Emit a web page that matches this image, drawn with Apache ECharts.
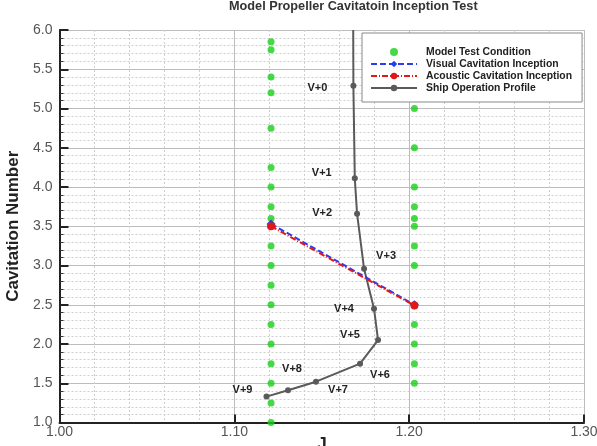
<!DOCTYPE html>
<html><head><meta charset="utf-8">
<script src="https://cdn.jsdelivr.net/npm/echarts@6/dist/echarts.min.js"></script>
<style>html,body{margin:0;padding:0;background:#fff}#c{width:597px;height:446px}</style>
</head><body><div id="c"></div><script>
// ---- data ----
const chartTitle = 'Model Propeller Cavitatoin Inception Test';
const xName = 'J';
const yName = 'Cavitation Number';
const seriesNames = ['Model Test Condition', 'Visual Cavitation Inception', 'Acoustic Cavitation Inception', 'Ship Operation Profile'];
const testLeftX = 1.121;
const testRightX = 1.203;
const testLeftY = [5.85, 5.75, 5.4, 5.2, 4.75, 4.25, 4.0, 3.75, 3.6, 3.5, 3.25, 3.0, 2.75, 2.5, 2.25, 2.0, 1.75, 1.5, 1.25, 1.0];
const testRightY = [5.0, 4.5, 4.0, 3.75, 3.6, 3.5, 3.25, 3.0, 2.5, 2.25, 2.0, 1.75, 1.5];
const visualX = [1.121, 1.203];
const visualY = [3.53, 2.5];
const acousticX = [1.121, 1.203];
const acousticY = [3.5, 2.49];
const shipLabels = ['', 'V+0', 'V+1', 'V+2', 'V+3', 'V+4', 'V+5', 'V+6', 'V+7', 'V+8', 'V+9'];
const shipX = [1.168, 1.1681, 1.1689, 1.1702, 1.1742, 1.1799, 1.1822, 1.1719, 1.1467, 1.1307, 1.1184];
const shipY = [6.0, 5.29, 4.11, 3.66, 2.96, 2.45, 2.05, 1.75, 1.52, 1.41, 1.33];

// ---- styles ----
const FONT = 'Liberation Sans, Arial, sans-serif';
const labelOffsets = {
  'V+0': [-36, 2], 'V+1': [-33, -5], 'V+2': [-35, -1], 'V+3': [22, -13], 'V+4': [-30, 0],
  'V+5': [-28, -5], 'V+6': [20, 11], 'V+7': [22, 8], 'V+8': [4, -21], 'V+9': [-24, -7]
};

const testData = testLeftY.map(y => [testLeftX, y]).concat(testRightY.map(y => [testRightX, y]));
const shipData = shipX.map((x, i) => {
  const lab = shipLabels[i];
  if (!lab) return { value: [x, shipY[i]], symbol: 'none', label: { show: false } };
  return { value: [x, shipY[i]], name: lab, label: { show: true, offset: labelOffsets[lab] } };
});

const chart = echarts.init(document.getElementById('c'), null, { renderer: 'canvas' });
chart.setOption({
  animation: false,
  backgroundColor: '#fff',
  title: {
    text: chartTitle, left: 229, top: 0, padding: 0,
    textStyle: { fontFamily: FONT, fontSize: 12.7, fontWeight: 'bold', color: '#333' }
  },
  grid: { left: 59.5, right: 13, top: 30, bottom: 23.5, containLabel: false, outerBoundsMode: 'none' },
  legend: {
    orient: 'vertical', left: 362, top: 33,
    padding: [13, 10, 8, 8],
    itemWidth: 46, itemHeight: 8, itemGap: 0,
    borderColor: '#888', borderWidth: 1, backgroundColor: '#fff', borderRadius: 0,
    textStyle: { fontFamily: FONT, fontSize: 10.4, fontWeight: 'bold', color: '#222', lineHeight: 12, padding: [0, 0, 0, 4] },
    data: seriesNames
  },
  graphic: [{
    type: 'text', x: 322, y: 436, z: 10,
    style: { text: xName, align: 'center', verticalAlign: 'top', fontFamily: FONT, fontSize: 17, fontWeight: 'bold', fill: '#222' }
  }],
  xAxis: {
    type: 'value', min: 1.0, max: 1.3, interval: 0.1,
    axisLine: { show: true, onZero: false, lineStyle: { color: '#222', width: 2 } },
    axisTick: { show: true, inside: true, length: 8, lineStyle: { color: '#222', width: 2 } },
    minorTick: { show: false, splitNumber: 5 },
    axisLabel: { margin: 3, fontFamily: FONT, fontSize: 14, color: '#555', formatter: v => v.toFixed(2) },
    splitLine: { show: true, lineStyle: { color: '#bdbdbd', width: 1 } },
    minorSplitLine: { show: true, lineStyle: { color: '#cfcfcf', width: 1, type: [2, 2] } }
  },
  yAxis: {
    type: 'value', min: 1.0, max: 6.0, interval: 0.5,
    name: yName, nameLocation: 'middle', nameGap: 37,
    nameTextStyle: { fontFamily: FONT, fontSize: 17, fontWeight: 'bold', color: '#222' },
    axisLine: { show: true, onZero: false, lineStyle: { color: '#222', width: 2 } },
    axisTick: { show: true, inside: true, length: 9, lineStyle: { color: '#222', width: 2 } },
    minorTick: { show: true, splitNumber: 5, length: 4, lineStyle: { color: '#333', width: 1 } },
    axisLabel: { margin: 7, fontFamily: FONT, fontSize: 14, color: '#555', formatter: v => v.toFixed(1) },
    splitLine: { show: true, lineStyle: { color: '#bdbdbd', width: 1 } },
    minorSplitLine: { show: true, lineStyle: { color: '#cfcfcf', width: 1, type: [2, 2] } }
  },
  series: [
    {
      name: seriesNames[0], type: 'scatter', z: 2,
      symbol: 'circle', symbolSize: 7,
      itemStyle: { color: '#16d016' },
      data: testData
    },
    {
      name: seriesNames[1], type: 'line', z: 4,
      symbol: 'diamond', symbolSize: 9,
      lineStyle: { color: '#2a3cf0', width: 2, type: [6, 3] },
      itemStyle: { color: '#2a3cf0' },
      data: visualX.map((x, i) => [x, visualY[i]])
    },
    {
      name: seriesNames[2], type: 'line', z: 5,
      symbol: 'circle', symbolSize: 8,
      lineStyle: { color: '#e01818', width: 2, type: [6, 2, 1, 2] },
      itemStyle: { color: '#e01818' },
      data: acousticX.map((x, i) => [x, acousticY[i]])
    },
    {
      name: seriesNames[3], type: 'line', z: 3,
      symbol: 'circle', symbolSize: 6,
      lineStyle: { color: '#5a5a5a', width: 2 },
      itemStyle: { color: '#5a5a5a' },
      label: {
        show: true, position: 'inside', formatter: p => p.name,
        fontFamily: FONT, fontSize: 11, fontWeight: 'bold', color: '#222'
      },
      data: shipData
    }
  ]
});
</script></body></html>
